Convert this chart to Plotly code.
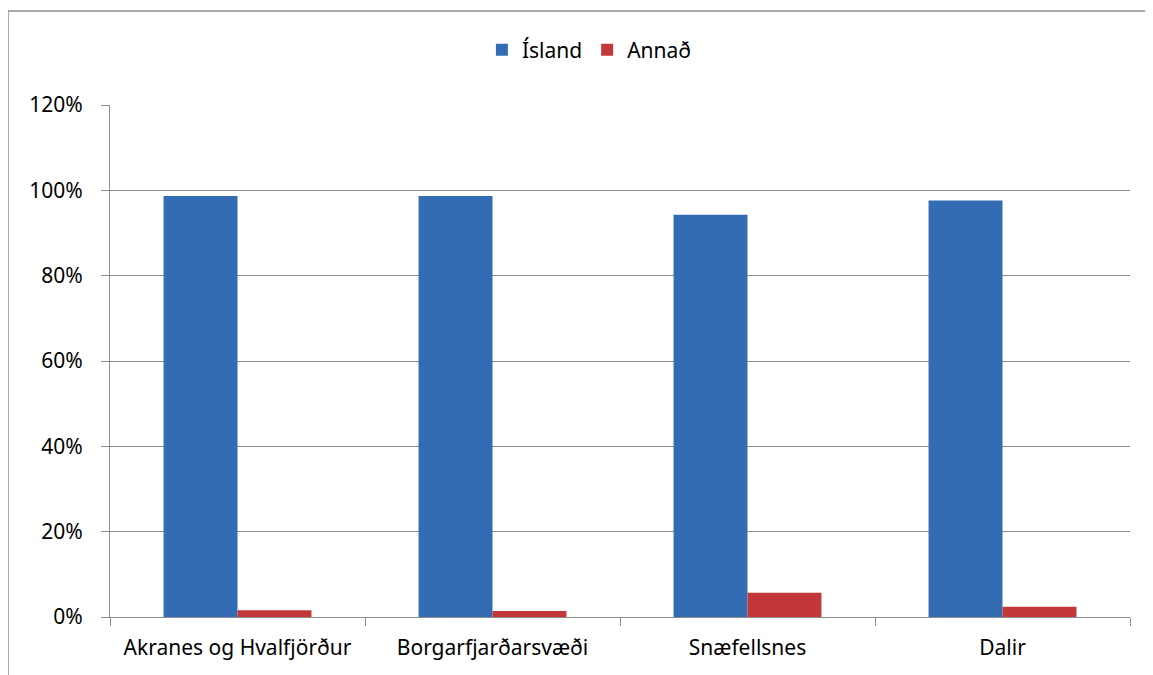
import plotly.graph_objects as go

categories = ["Akranes og Hvalfjörður", "Borgarfjarðarsvæði", "Snæfellsnes", "Dalir"]
island = [0.987, 0.987, 0.943, 0.976]
annad = [0.016, 0.014, 0.057, 0.024]
series_names = ["Ísland", "Annað"]
y_ticks = [0, 0.2, 0.4, 0.6, 0.8, 1.0, 1.2]

FONT = "Noto Sans"
FS = 21
GRID = "#8c8c8c"

fig = go.Figure()
fig.add_trace(go.Bar(x=categories, y=island, name=series_names[0],
                     marker=dict(color="#346CB4", line=dict(width=0))))
fig.add_trace(go.Bar(x=categories, y=annad, name=series_names[1],
                     marker=dict(color="#C23737", line=dict(width=0))))

border = dict(color="#8c8c8c", width=1.5)
fig.update_layout(
    width=1153, height=675,
    margin=dict(l=102, r=31, t=97, b=66),
    paper_bgcolor="white", plot_bgcolor="white",
    barmode="group", bargap=0.42, bargroupgap=0,
    font=dict(family=FONT, size=FS, color="#000000"),
    legend=dict(orientation="h", x=0.47, xanchor="center", y=1.107, yanchor="middle",
                font=dict(family=FONT, size=FS), itemwidth=30, traceorder="normal"),
    xaxis=dict(showline=True, linecolor=GRID, linewidth=1, ticks="outside",
               tickson="boundaries", ticklen=8, tickcolor=GRID, showgrid=False,
               ticklabelstandoff=12,
               tickfont=dict(family=FONT, size=FS)),
    yaxis=dict(range=[0, 1.2], tickvals=y_ticks, tickformat=".0%", showline=True,
               linecolor=GRID, linewidth=1, ticks="outside", ticklen=8, tickcolor=GRID,
               showgrid=True, gridcolor=GRID, gridwidth=1, zeroline=False,
               ticklabelstandoff=14,
               tickfont=dict(family=FONT, size=FS)),
    shapes=[
        dict(type="line", xref="paper", yref="paper", x0=-0.1, x1=1.2,
             y0=1.1836, y1=1.1836, line=border, layer="below"),
        dict(type="line", xref="paper", yref="paper", x0=-0.1, x1=-0.1,
             y0=-0.3, y1=1.1836, line=border, layer="below"),
    ],
)

fig.write_html("out.html")
